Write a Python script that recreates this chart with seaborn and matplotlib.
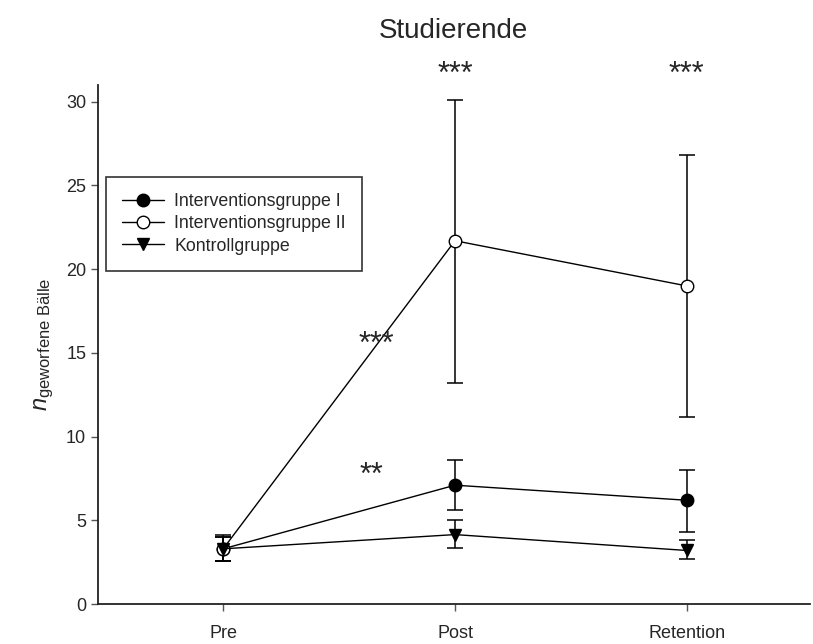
import matplotlib
matplotlib.use("Agg")
import matplotlib.pyplot as plt
import seaborn as sns
import pandas as pd
import numpy as np
from matplotlib.lines import Line2D

sns.set_style("ticks")
plt.rcParams['font.family'] = ['Liberation Sans', 'DejaVu Sans']
plt.rcParams['mathtext.fontset'] = 'custom'
plt.rcParams['mathtext.it'] = 'Liberation Sans:italic'
plt.rcParams['mathtext.rm'] = 'Liberation Sans'

times = ["Pre", "Post", "Retention"]
groups = ["Interventionsgruppe I", "Interventionsgruppe II", "Kontrollgruppe"]
mean_g1 = [3.3, 7.1, 6.2]
upper_g1 = [4.0, 8.6, 8.0]
lower_g1 = [2.6, 5.6, 4.3]
mean_g2 = [3.3, 21.7, 19.0]
upper_g2 = [4.0, 30.1, 26.8]
lower_g2 = [2.6, 13.2, 11.2]
mean_k = [3.3, 4.15, 3.2]
upper_k = [4.1, 5.0, 3.8]
lower_k = [2.6, 3.35, 2.7]

stars_top = ["", "***", "***"]

means = [mean_g1, mean_g2, mean_k]
uppers = [upper_g1, upper_g2, upper_k]
lowers = [lower_g1, lower_g2, lower_k]

rows = []
for g, m in zip(groups, means):
    for i, t in enumerate(times):
        rows.append({"group": g, "t": i, "value": m[i]})
df = pd.DataFrame(rows)

fig = plt.figure(figsize=(8.13, 6.44), dpi=100)
ax = fig.add_axes([0.1205, 0.062, 0.8755, 0.806])

styles = {
    "Interventionsgruppe I": dict(marker="o", mfc="black", ms=9),
    "Interventionsgruppe II": dict(marker="o", mfc="white", ms=9),
    "Kontrollgruppe": dict(marker="v", mfc="black", ms=9),
}

x = np.arange(len(times))
for g, m, up, lo in zip(groups, means, uppers, lowers):
    m = np.array(m); up = np.array(up); lo = np.array(lo)
    ax.errorbar(x, m, yerr=[m - lo, up - m], fmt="none", ecolor="black",
                elinewidth=1.1, capsize=5.7, capthick=1.1, zorder=2)
for g in groups:
    sub = df[df.group == g]
    st = styles[g]
    sns.lineplot(data=sub, x="t", y="value", ax=ax, color="black", lw=1.0,
                 marker=st["marker"], markersize=st["ms"], markerfacecolor=st["mfc"],
                 markeredgecolor="black", markeredgewidth=1.0, zorder=3, legend=False)

ax.set_xlim(-0.54, 2.53)
ax.set_ylim(0, 31)
ax.set_xticks(x)
ax.set_xticklabels(times)
ax.set_yticks(np.arange(0, 31, 5))
ax.tick_params(axis="both", labelsize=13, direction="out", length=5, width=1, color="#555555")
ax.tick_params(axis="x", pad=10)
sns.despine(ax=ax)
for s in ["left", "bottom"]:
    ax.spines[s].set_linewidth(1.3)
    ax.spines[s].set_color("#222222")
ax.set_xlabel("")
ax.set_ylabel(r"$\mathit{n}$$_{\mathregular{geworfene\ Bälle}}$", fontsize=17, labelpad=7)

ax.set_title("Studierende", fontsize=20, pad=34)

for i, s in enumerate(stars_top):
    if s:
        ax.text(x[i], 31.1, s, ha="center", va="baseline", fontsize=22, clip_on=False)
ax.text(0.66, 15.0, "***", ha="center", va="baseline", fontsize=22)
ax.text(0.64, 7.2, "**", ha="center", va="baseline", fontsize=22)

handles = [Line2D([0], [0], color="black", lw=1.0, marker=styles[g]["marker"],
                  markersize=9, markerfacecolor=styles[g]["mfc"], markeredgecolor="black")
           for g in groups]
leg = ax.legend(handles, groups, loc="upper left", bbox_to_anchor=(0.011, 0.823),
                frameon=True, fancybox=False, edgecolor="black", fontsize=12.8,
                handlelength=2.4, borderpad=0.9, labelspacing=0.3, handletextpad=0.55,
                borderaxespad=0)
leg.get_frame().set_linewidth(1.2)

fig.savefig("out.png", dpi=100)
